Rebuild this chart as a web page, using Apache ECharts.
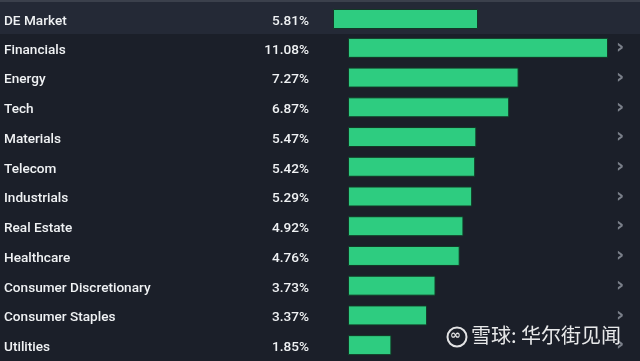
<!DOCTYPE html>
<html><head><meta charset="utf-8">
<script src="https://cdn.jsdelivr.net/npm/echarts@6/dist/echarts.min.js"></script>
<style>html,body{margin:0;padding:0;background:#1b1f29;}#c{width:640px;height:361px;}</style>
</head><body><div id="c"></div>
<script>
var marketName = ['DE Market'];
var marketValues = [5.81];
var sectors = ['Financials','Energy','Tech','Materials','Telecom','Industrials','Real Estate','Healthcare','Consumer Discretionary','Consumer Staples','Utilities'];
var sectorValues = [11.08,7.27,6.87,5.47,5.42,5.29,4.92,4.76,3.73,3.37,1.85];

var FONT = 'Roboto';
var FS = 13.6;
var FW = 500;
var txt = '#f0f2f4';
var RICH = {t:{color:txt, fontSize:FS, fontWeight:FW, fontFamily:FONT, padding:[5,0,0,0]}};
function fmtVal(vals){ return function(v, i){ return '{t|' + vals[i].toFixed(2) + '%}'; }; }
function fmtName(v){ return '{t|' + v + '}'; }
function nameAxis(grid, data){
  return {type:'category', gridIndex:grid, data:data, inverse:true, position:'left',
    axisLine:{show:false}, axisTick:{show:false}, splitLine:{show:false}};
}
var chart = echarts.init(document.getElementById('c'));
var y0 = nameAxis(0, marketName); y0.axisLabel = {align:'left', margin:329, formatter:fmtName, rich:RICH};
var y1 = nameAxis(0, marketName); y1.axisLabel = {margin:24, formatter:fmtVal(marketValues), rich:RICH};
var y2 = nameAxis(1, sectors); y2.axisLabel = {align:'left', margin:344, formatter:fmtName, rich:RICH};
var y3 = nameAxis(1, sectors); y3.axisLabel = {margin:39, formatter:fmtVal(sectorValues), rich:RICH};
var y4 = nameAxis(1, sectors); y4.position = 'right'; y4.axisLabel = {margin:8, color:'#7a7f89', fontSize:20, fontWeight:'bold', fontFamily:'DejaVu Sans', formatter:function(){return '\u203a';}};

chart.setOption({
  backgroundColor:'#1b1f29',
  animation:false,
  graphic:[
    {type:'rect', shape:{x:0,y:0,width:640,height:2}, style:{fill:'#3b404c'}, z:-10},
    {type:'rect', shape:{x:0,y:2,width:640,height:32}, style:{fill:'#242936'}, z:-10},
    {type:'circle', shape:{cx:457,cy:337,r:9.5}, style:{fill:'none', stroke:'rgba(255,255,255,0.88)', lineWidth:2}, z:10},
    {type:'text', left:450, top:329, style:{text:'\u221e', fill:'rgba(255,255,255,0.88)', font:'bold 13px DejaVu Sans'}, z:10},
    {type:'text', left:471, top:325, style:{text:'雪球: 华尔街见闻', fill:'rgba(255,255,255,0.9)', font:'20px "Noto Sans CJK SC"', shadowColor:'rgba(0,0,0,0.5)', shadowBlur:2}, z:10}
  ],
  grid:[
    {left:333, right:162, top:4, height:30, containLabel:false},
    {left:348, right:32, top:33, height:327, containLabel:false}
  ],
  xAxis:[
    {type:'value', gridIndex:0, min:0, max:5.81, show:false},
    {type:'value', gridIndex:1, min:0, max:11.08, show:false}
  ],
  yAxis:[y0,y1,y2,y3,y4],
  series:[
    {type:'bar', xAxisIndex:0, yAxisIndex:0, data:marketValues, barWidth:20,
     itemStyle:{color:'#2ecc80', borderColor:'#123826', borderWidth:1}},
    {type:'bar', xAxisIndex:1, yAxisIndex:2, data:sectorValues, barWidth:20,
     itemStyle:{color:'#2ecc80', borderColor:'#123826', borderWidth:1}}
  ]
});
</script></body></html>
